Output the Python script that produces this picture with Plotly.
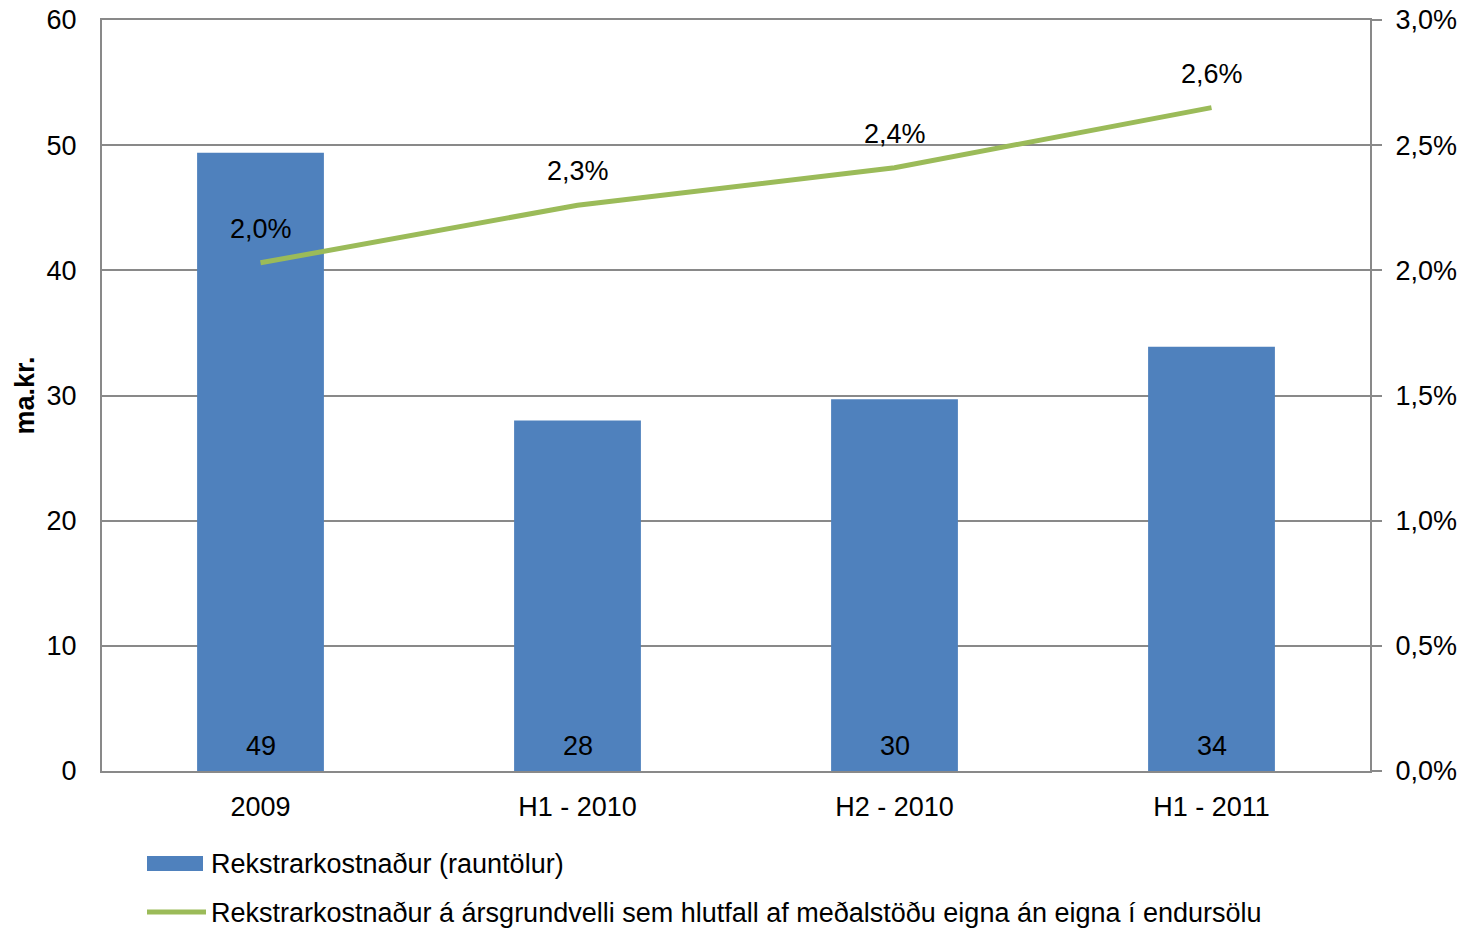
import plotly.graph_objects as go

categories = ["2009", "H1 - 2010", "H2 - 2010", "H1 - 2011"]
costs = [49.4, 28.0, 29.7, 33.9]
cost_labels = ["49", "28", "30", "34"]
ratio = [0.0203, 0.0226, 0.0241, 0.0265]
ratio_labels = ["2,0%", "2,3%", "2,4%", "2,6%"]
left_ticks = [0, 10, 20, 30, 40, 50, 60]
right_ticks = [0, 0.005, 0.01, 0.015, 0.02, 0.025, 0.03]
right_tick_text = ["0,0%", "0,5%", "1,0%", "1,5%", "2,0%", "2,5%", "3,0%"]
bar_name = "Rekstrarkostnaður (rauntölur)"
line_name = "Rekstrarkostnaður á ársgrundvelli sem hlutfall af meðalstöðu eigna án eigna í endursölu"

FONT = "Liberation Sans, Arial, sans-serif"
FS = 27
GRID = "#898989"
BLUE = "#4F81BD"
GREEN = "#9BBB59"

fig = go.Figure()
fig.add_trace(go.Bar(
    x=categories, y=costs, name=bar_name,
    marker=dict(color=BLUE, line=dict(width=0)),
    width=0.4, hoverinfo="skip", showlegend=False,
))
fig.add_trace(go.Scatter(
    x=categories, y=ratio, yaxis="y2", mode="lines", name=line_name,
    line=dict(color=GREEN, width=5),
    hoverinfo="skip", showlegend=False,
))

annotations = []
# category axis: annotations use category index
for i, lab in enumerate(cost_labels):
    annotations.append(dict(x=i, y=0, xref="x", yref="y", text=lab, showarrow=False,
                            yanchor="middle", yshift=25, font=dict(size=FS, color="black")))
for i, (v, lab) in enumerate(zip(ratio, ratio_labels)):
    annotations.append(dict(x=i, y=v, xref="x", yref="y2", text=lab, showarrow=False,
                            yanchor="middle", yshift=34, font=dict(size=FS, color="black")))

# custom legend (below plot)
def px_x(p):
    return (p - 102) / 1268.0

def px_y(p):
    return (771 - p) / 751.0

shapes = [
    dict(type="rect", xref="paper", yref="paper", x0=px_x(147), x1=px_x(203),
         y0=px_y(871), y1=px_y(856), fillcolor=BLUE, line=dict(width=0)),
    dict(type="line", xref="paper", yref="paper", x0=px_x(147), x1=px_x(206),
         y0=px_y(912), y1=px_y(912), line=dict(color=GREEN, width=5)),
]
annotations.append(dict(x=px_x(209), y=px_y(864), xref="paper", yref="paper", text=bar_name,
                        showarrow=False, xanchor="left", yanchor="middle",
                        font=dict(size=FS, color="black")))
annotations.append(dict(x=px_x(209), y=px_y(913), xref="paper", yref="paper", text=line_name,
                        showarrow=False, xanchor="left", yanchor="middle",
                        font=dict(size=FS, color="black")))

fig.update_layout(
    width=1475, height=930,
    margin=dict(l=102, r=105, t=20, b=159, autoexpand=False),
    paper_bgcolor="white", plot_bgcolor="white",
    font=dict(family=FONT, size=FS, color="black"),
    showlegend=False,
    annotations=annotations,
    shapes=shapes,
    xaxis=dict(type="category", range=[-0.5, len(categories) - 0.5],
               showgrid=False, showline=True, linecolor=GRID, linewidth=2,
               mirror=True, ticks="", tickfont=dict(size=FS), automargin=False,
               ticklabelstandoff=11),
    yaxis=dict(range=[0, 60], tickvals=left_ticks, showgrid=True, gridcolor=GRID,
               gridwidth=2, showline=True, linecolor=GRID, linewidth=2,
               ticks="", zeroline=False, tickfont=dict(size=FS), automargin=False,
               ticklabelstandoff=18,
               title=dict(text="<b>ma.kr.</b>", font=dict(size=FS), standoff=4)),
    yaxis2=dict(range=[0, 0.03], tickvals=right_ticks, ticktext=right_tick_text,
                overlaying="y", side="right", showgrid=False, showline=True,
                linecolor=GRID, linewidth=2, ticks="outside", ticklen=10,
                tickcolor=GRID, tickwidth=2, zeroline=False, tickfont=dict(size=FS),
                automargin=False, ticklabelstandoff=8),
)

fig.write_html("out.html", config={"displayModeBar": False},
               post_script="document.body.style.margin='0px';")
